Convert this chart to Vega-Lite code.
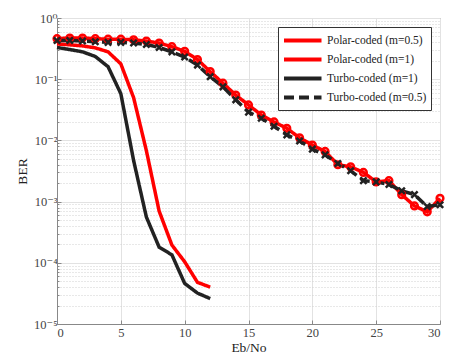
{
  "$schema": "https://vega.github.io/schema/vega-lite/v6.json",
  "autosize": {"type": "none"},
  "padding": {"left": 57, "top": 18, "right": 20, "bottom": 39},
  "width": 383,
  "height": 306,
  "background": "white",
  "config": {
    "font": "'Liberation Serif', 'DejaVu Serif', serif",
    "view": {"stroke": "#888888", "strokeWidth": 1},
    "axis": {
      "labelFont": "'Liberation Serif', 'DejaVu Serif', serif",
      "titleFont": "'Liberation Serif', 'DejaVu Serif', serif",
      "labelColor": "#444444",
      "titleColor": "#222222",
      "labelFontSize": 12.5,
      "titleFontSize": 13.5,
      "titleFontWeight": "normal",
      "domainColor": "#888888",
      "tickColor": "#888888",
      "gridColor": "#e2e2e2"
    },
    "legend": {
      "labelFont": "'Liberation Serif', 'DejaVu Serif', serif"
    }
  },
  "datasets": {
    "ber": [
      {"x": 0, "ber": 0.46, "s": "Polar-coded (m=0.5)"},
      {"x": 1, "ber": 0.47, "s": "Polar-coded (m=0.5)"},
      {"x": 2, "ber": 0.47, "s": "Polar-coded (m=0.5)"},
      {"x": 3, "ber": 0.46, "s": "Polar-coded (m=0.5)"},
      {"x": 4, "ber": 0.45, "s": "Polar-coded (m=0.5)"},
      {"x": 5, "ber": 0.45, "s": "Polar-coded (m=0.5)"},
      {"x": 6, "ber": 0.44, "s": "Polar-coded (m=0.5)"},
      {"x": 7, "ber": 0.42, "s": "Polar-coded (m=0.5)"},
      {"x": 8, "ber": 0.39, "s": "Polar-coded (m=0.5)"},
      {"x": 9, "ber": 0.34, "s": "Polar-coded (m=0.5)"},
      {"x": 10, "ber": 0.285, "s": "Polar-coded (m=0.5)"},
      {"x": 11, "ber": 0.21, "s": "Polar-coded (m=0.5)"},
      {"x": 12, "ber": 0.133, "s": "Polar-coded (m=0.5)"},
      {"x": 13, "ber": 0.086, "s": "Polar-coded (m=0.5)"},
      {"x": 14, "ber": 0.055, "s": "Polar-coded (m=0.5)"},
      {"x": 15, "ber": 0.038, "s": "Polar-coded (m=0.5)"},
      {"x": 16, "ber": 0.026, "s": "Polar-coded (m=0.5)"},
      {"x": 17, "ber": 0.020, "s": "Polar-coded (m=0.5)"},
      {"x": 18, "ber": 0.0158, "s": "Polar-coded (m=0.5)"},
      {"x": 19, "ber": 0.011, "s": "Polar-coded (m=0.5)"},
      {"x": 20, "ber": 0.0084, "s": "Polar-coded (m=0.5)"},
      {"x": 21, "ber": 0.0066, "s": "Polar-coded (m=0.5)"},
      {"x": 22, "ber": 0.0040, "s": "Polar-coded (m=0.5)"},
      {"x": 23, "ber": 0.0037, "s": "Polar-coded (m=0.5)"},
      {"x": 24, "ber": 0.0030, "s": "Polar-coded (m=0.5)"},
      {"x": 25, "ber": 0.0021, "s": "Polar-coded (m=0.5)"},
      {"x": 26, "ber": 0.0022, "s": "Polar-coded (m=0.5)"},
      {"x": 27, "ber": 0.0013, "s": "Polar-coded (m=0.5)"},
      {"x": 28, "ber": 0.00085, "s": "Polar-coded (m=0.5)"},
      {"x": 29, "ber": 0.00068, "s": "Polar-coded (m=0.5)"},
      {"x": 30, "ber": 0.00113, "s": "Polar-coded (m=0.5)"},
      {"x": 0, "ber": 0.376, "s": "Polar-coded (m=1)"},
      {"x": 1, "ber": 0.365, "s": "Polar-coded (m=1)"},
      {"x": 2, "ber": 0.35, "s": "Polar-coded (m=1)"},
      {"x": 3, "ber": 0.325, "s": "Polar-coded (m=1)"},
      {"x": 4, "ber": 0.28, "s": "Polar-coded (m=1)"},
      {"x": 5, "ber": 0.178, "s": "Polar-coded (m=1)"},
      {"x": 6, "ber": 0.05, "s": "Polar-coded (m=1)"},
      {"x": 7, "ber": 0.0068, "s": "Polar-coded (m=1)"},
      {"x": 8, "ber": 0.0007, "s": "Polar-coded (m=1)"},
      {"x": 9, "ber": 0.000195, "s": "Polar-coded (m=1)"},
      {"x": 10, "ber": 0.000104, "s": "Polar-coded (m=1)"},
      {"x": 11, "ber": 0.000048, "s": "Polar-coded (m=1)"},
      {"x": 12, "ber": 0.00004, "s": "Polar-coded (m=1)"},
      {"x": 0, "ber": 0.33, "s": "Turbo-coded (m=1)"},
      {"x": 1, "ber": 0.305, "s": "Turbo-coded (m=1)"},
      {"x": 2, "ber": 0.28, "s": "Turbo-coded (m=1)"},
      {"x": 3, "ber": 0.235, "s": "Turbo-coded (m=1)"},
      {"x": 4, "ber": 0.16, "s": "Turbo-coded (m=1)"},
      {"x": 5, "ber": 0.058, "s": "Turbo-coded (m=1)"},
      {"x": 6, "ber": 0.0047, "s": "Turbo-coded (m=1)"},
      {"x": 7, "ber": 0.00056, "s": "Turbo-coded (m=1)"},
      {"x": 8, "ber": 0.00018, "s": "Turbo-coded (m=1)"},
      {"x": 9, "ber": 0.000135, "s": "Turbo-coded (m=1)"},
      {"x": 10, "ber": 0.000046, "s": "Turbo-coded (m=1)"},
      {"x": 11, "ber": 0.000032, "s": "Turbo-coded (m=1)"},
      {"x": 12, "ber": 0.000026, "s": "Turbo-coded (m=1)"},
      {"x": 0, "ber": 0.43, "s": "Turbo-coded (m=0.5)"},
      {"x": 1, "ber": 0.43, "s": "Turbo-coded (m=0.5)"},
      {"x": 2, "ber": 0.42, "s": "Turbo-coded (m=0.5)"},
      {"x": 3, "ber": 0.41, "s": "Turbo-coded (m=0.5)"},
      {"x": 4, "ber": 0.40, "s": "Turbo-coded (m=0.5)"},
      {"x": 5, "ber": 0.40, "s": "Turbo-coded (m=0.5)"},
      {"x": 6, "ber": 0.39, "s": "Turbo-coded (m=0.5)"},
      {"x": 7, "ber": 0.37, "s": "Turbo-coded (m=0.5)"},
      {"x": 8, "ber": 0.33, "s": "Turbo-coded (m=0.5)"},
      {"x": 9, "ber": 0.28, "s": "Turbo-coded (m=0.5)"},
      {"x": 10, "ber": 0.23, "s": "Turbo-coded (m=0.5)"},
      {"x": 11, "ber": 0.17, "s": "Turbo-coded (m=0.5)"},
      {"x": 12, "ber": 0.11, "s": "Turbo-coded (m=0.5)"},
      {"x": 13, "ber": 0.075, "s": "Turbo-coded (m=0.5)"},
      {"x": 14, "ber": 0.046, "s": "Turbo-coded (m=0.5)"},
      {"x": 15, "ber": 0.029, "s": "Turbo-coded (m=0.5)"},
      {"x": 16, "ber": 0.023, "s": "Turbo-coded (m=0.5)"},
      {"x": 17, "ber": 0.017, "s": "Turbo-coded (m=0.5)"},
      {"x": 18, "ber": 0.0123, "s": "Turbo-coded (m=0.5)"},
      {"x": 19, "ber": 0.0098, "s": "Turbo-coded (m=0.5)"},
      {"x": 20, "ber": 0.0072, "s": "Turbo-coded (m=0.5)"},
      {"x": 21, "ber": 0.0058, "s": "Turbo-coded (m=0.5)"},
      {"x": 22, "ber": 0.0042, "s": "Turbo-coded (m=0.5)"},
      {"x": 23, "ber": 0.0032, "s": "Turbo-coded (m=0.5)"},
      {"x": 24, "ber": 0.0022, "s": "Turbo-coded (m=0.5)"},
      {"x": 25, "ber": 0.0021, "s": "Turbo-coded (m=0.5)"},
      {"x": 26, "ber": 0.0019, "s": "Turbo-coded (m=0.5)"},
      {"x": 27, "ber": 0.0015, "s": "Turbo-coded (m=0.5)"},
      {"x": 28, "ber": 0.0013, "s": "Turbo-coded (m=0.5)"},
      {"x": 29, "ber": 0.00083, "s": "Turbo-coded (m=0.5)"},
      {"x": 30, "ber": 0.00089, "s": "Turbo-coded (m=0.5)"}
    ]
  },
  "data": {"name": "ber"},
  "encoding": {
    "x": {
      "field": "x", "type": "quantitative",
      "scale": {"domain": [0, 30], "nice": false},
      "axis": {"title": "Eb/No", "values": [0, 5, 10, 15, 20, 25, 30], "tickSize": -4, "labelPadding": 6, "titlePadding": 2}
    },
    "y": {
      "field": "ber", "type": "quantitative",
      "scale": {"type": "log", "domain": [0.00001, 1], "nice": false},
      "axis": {
        "title": "BER",
        "titlePadding": 4,
        "values": [0.00001, 0.00002, 0.00003, 0.00004, 0.00005, 0.00006, 0.00007, 0.00008, 0.00009,
                   0.0001, 0.0002, 0.0003, 0.0004, 0.0005, 0.0006, 0.0007, 0.0008, 0.0009,
                   0.001, 0.002, 0.003, 0.004, 0.005, 0.006, 0.007, 0.008, 0.009,
                   0.01, 0.02, 0.03, 0.04, 0.05, 0.06, 0.07, 0.08, 0.09,
                   0.1, 0.2, 0.3, 0.4, 0.5, 0.6, 0.7, 0.8, 0.9, 1],
        "labelOverlap": false,
        "labelExpr": "abs(log(datum.value)/LN10 - round(log(datum.value)/LN10)) < 0.000001 ? ['10⁻⁵','10⁻⁴','10⁻³','10⁻²','10⁻¹','10⁰'][round(log(datum.value)/LN10)+5] : ''",
        "gridDash": {"condition": {"test": "abs(log(datum.value)/LN10 - round(log(datum.value)/LN10)) < 0.000001", "value": []}, "value": [1, 2]},
        "gridColor": {"condition": {"test": "abs(log(datum.value)/LN10 - round(log(datum.value)/LN10)) < 0.000001", "value": "#e2e2e2"}, "value": "#d0d0d0"},
        "tickSize": {"condition": {"test": "abs(log(datum.value)/LN10 - round(log(datum.value)/LN10)) < 0.000001", "value": -4}, "value": -2},
        "labelPadding": 4
      }
    }
  },
  "layer": [
    {
      "mark": {"type": "line", "strokeWidth": 3.5, "strokeCap": "butt"},
      "encoding": {
        "color": {
          "field": "s", "type": "nominal",
          "scale": {"domain": ["Polar-coded (m=0.5)", "Polar-coded (m=1)", "Turbo-coded (m=1)", "Turbo-coded (m=0.5)"],
                    "range": ["#ff0000", "#ff0000", "#222222", "#222222"]},
          "legend": {
            "title": null, "orient": "none", "legendX": 221, "legendY": 9,
            "fillColor": "white", "strokeColor": "#333333", "padding": 4,
            "symbolType": "M-1,0L4,0", "symbolSize": 225, "symbolStrokeWidth": 4,
            "labelFontSize": 11.5, "labelColor": "#222222", "labelAlign": "left",
            "rowPadding": 1, "labelOffset": 26, "labelLimit": 200
          }
        },
        "strokeDash": {
          "field": "s", "type": "nominal",
          "scale": {"domain": ["Polar-coded (m=0.5)", "Polar-coded (m=1)", "Turbo-coded (m=1)", "Turbo-coded (m=0.5)"],
                    "range": [[1, 0], [1, 0], [1, 0], [10, 5]]},
          "legend": {
            "title": null, "orient": "none", "legendX": 221, "legendY": 9,
            "fillColor": "white", "strokeColor": "#333333", "padding": 4,
            "symbolType": "M-1,0L4,0", "symbolSize": 225, "symbolStrokeWidth": 4,
            "labelFontSize": 11.5, "labelColor": "#222222", "labelAlign": "left",
            "rowPadding": 1, "labelOffset": 26, "labelLimit": 200
          }
        },
        "order": {"field": "x"}
      }
    },
    {
      "transform": [{"filter": "datum.s === 'Polar-coded (m=0.5)'"}],
      "mark": {"type": "point", "shape": "circle", "filled": false, "stroke": "#ff0000", "strokeWidth": 2.5, "size": 45, "opacity": 1}
    },
    {
      "transform": [{"filter": "datum.s === 'Turbo-coded (m=0.5)'"}],
      "mark": {"type": "point", "shape": "M-1,-1L1,1M1,-1L-1,1", "filled": false, "stroke": "#222222", "strokeWidth": 2.5, "size": 40, "opacity": 1}
    }
  ]
}
